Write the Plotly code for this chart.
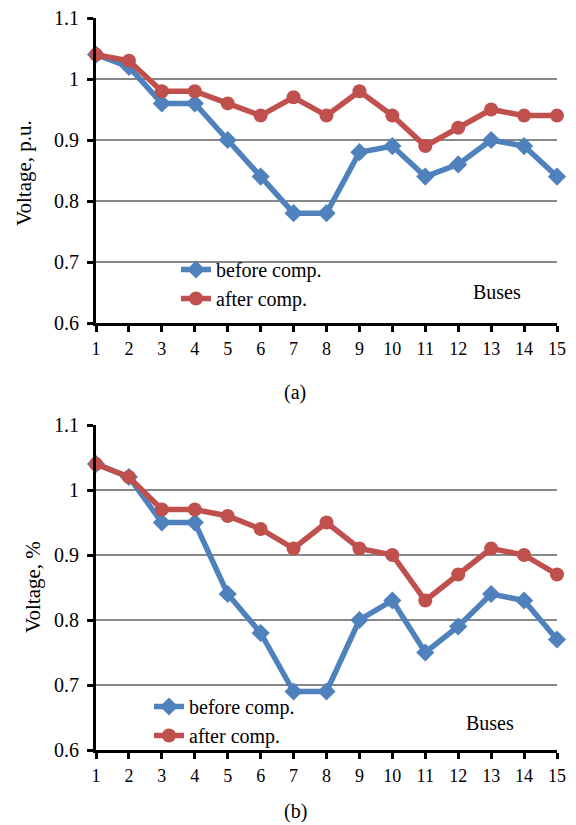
import plotly.graph_objects as go

buses = list(range(1, 16))
tick_labels = [str(b) for b in buses]

before_a = [1.04, 1.02, 0.96, 0.96, 0.90, 0.84, 0.78, 0.78, 0.88, 0.89, 0.84, 0.86, 0.90, 0.89, 0.84]
after_a = [1.04, 1.03, 0.98, 0.98, 0.96, 0.94, 0.97, 0.94, 0.98, 0.94, 0.89, 0.92, 0.95, 0.94, 0.94]

before_b = [1.04, 1.02, 0.95, 0.95, 0.84, 0.78, 0.69, 0.69, 0.80, 0.83, 0.75, 0.79, 0.84, 0.83, 0.77]
after_b = [1.04, 1.02, 0.97, 0.97, 0.96, 0.94, 0.91, 0.95, 0.91, 0.90, 0.83, 0.87, 0.91, 0.90, 0.87]

y_ticks = [0.6, 0.7, 0.8, 0.9, 1.0, 1.1]
y_tick_text = ["0.6", "0.7", "0.8", "0.9", "1", "1.1"]

BLUE = "#4F81BD"
RED = "#C0504D"
FONT = "Liberation Serif, Times New Roman, serif"

W, H = 576, 825


def px(x):
    return x / W


def py(y):
    return 1 - y / H


fig = go.Figure()


def add_pair(before, after, xa, ya, legend):
    fig.add_trace(go.Scatter(x=buses, y=before, mode="lines+markers", name="before comp.",
                             line=dict(color=BLUE, width=5.5),
                             marker=dict(symbol="diamond", size=14, color=BLUE),
                             xaxis=xa, yaxis=ya, legend=legend, legendgroup=legend + "b",
                             cliponaxis=False))
    fig.add_trace(go.Scatter(x=buses, y=after, mode="lines+markers", name="after comp.",
                             line=dict(color=RED, width=5.5),
                             marker=dict(symbol="circle", size=14, color=RED),
                             xaxis=xa, yaxis=ya, legend=legend, legendgroup=legend + "a",
                             cliponaxis=False))


add_pair(before_a, after_a, "x", "y", "legend")
add_pair(before_b, after_b, "x2", "y2", "legend2")

xdom = [px(96), px(557)]
common_x = dict(range=[1, 15], tickmode="array", tickvals=buses, ticktext=tick_labels,
                showline=True, linecolor="black", linewidth=3, ticks="outside",
                ticklen=6, tickwidth=3, tickcolor="black", showgrid=False, zeroline=False,
                automargin=False,
                tickfont=dict(family=FONT, size=18, color="black"), ticklabelstandoff=1)
common_y = dict(range=[0.6, 1.1], tickmode="array", tickvals=y_ticks, ticktext=y_tick_text,
                showline=True, linecolor="black", linewidth=3, ticks="outside",
                ticklen=6, tickwidth=3, tickcolor="black", showgrid=True,
                gridcolor="#888888", gridwidth=1.8, zeroline=False, automargin=False,
                tickfont=dict(family=FONT, size=20, color="black"), ticklabelstandoff=4)

legend_common = dict(xanchor="left", yanchor="middle", bgcolor="rgba(0,0,0,0)",
                     font=dict(family=FONT, size=20, color="black"),
                     tracegroupgap=0, itemwidth=30)

ann_font = dict(family=FONT, size=20, color="black")

fig.update_layout(
    width=W, height=H,
    margin=dict(l=0, r=0, t=0, b=0, autoexpand=False),
    paper_bgcolor="white", plot_bgcolor="white",
    font=dict(family=FONT, color="black"),
    xaxis=dict(domain=xdom, anchor="y", **common_x),
    yaxis=dict(domain=[py(323), py(18)], anchor="x", **common_y),
    xaxis2=dict(domain=xdom, anchor="y2", **common_x),
    yaxis2=dict(domain=[py(750), py(425)], anchor="x2", **common_y),
    legend=dict(x=px(176), y=py(284), **legend_common),
    legend2=dict(x=px(149), y=py(721), **legend_common),
    annotations=[
        dict(text="Voltage, p.u.", x=px(24), y=py(173), xref="paper", yref="paper",
             xanchor="center", yanchor="middle",
             textangle=-90, showarrow=False, font=dict(family=FONT, size=21, color="black")),
        dict(text="Voltage, %", x=px(33), y=py(587), xref="paper", yref="paper",
             xanchor="center", yanchor="middle",
             textangle=-90, showarrow=False, font=dict(family=FONT, size=21, color="black")),
        dict(text="Buses", x=px(497), y=py(292), xref="paper", yref="paper",
             xanchor="center", yanchor="middle", showarrow=False, font=ann_font),
        dict(text="Buses", x=px(490), y=py(723), xref="paper", yref="paper",
             xanchor="center", yanchor="middle", showarrow=False, font=ann_font),
        dict(text="(a)", x=px(295), y=py(393), xref="paper", yref="paper",
             xanchor="center", yanchor="middle", showarrow=False, font=ann_font),
        dict(text="(b)", x=px(295), y=0, xref="paper", yref="paper",
             xanchor="center", yanchor="bottom", showarrow=False, font=ann_font),
    ],
)

fig.write_html("out.html", config={"displayModeBar": False},
               post_script="document.body.style.margin='0px';")
